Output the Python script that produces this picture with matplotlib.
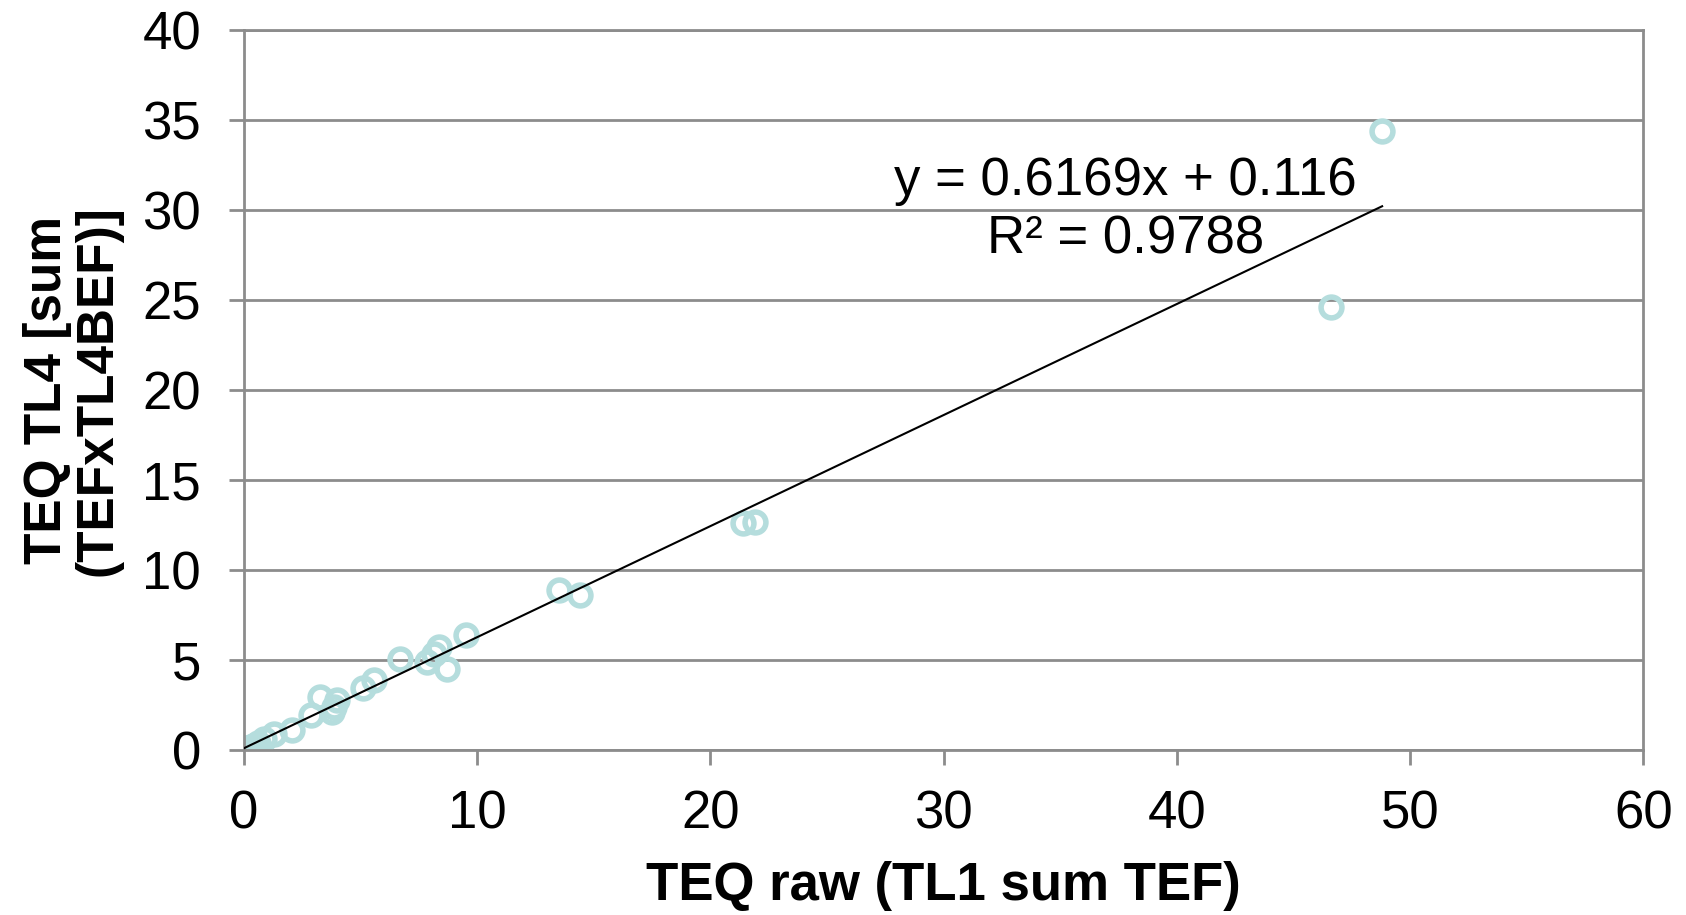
import numpy as np
import matplotlib
matplotlib.use("Agg")
import matplotlib.pyplot as plt

plt.rcParams['font.family'] = ['Liberation Sans', 'DejaVu Sans']

# TEQ raw (x) vs TEQ TL4 (y)
teq_raw = [0.0, 0.02, 0.05, 0.1, 0.15, 0.2, 0.25, 0.3, 0.4, 0.5, 0.6, 0.86, 1.29, 2.07,
           2.86, 3.26, 3.79, 3.86, 4.0, 5.11, 5.57, 6.71, 7.86, 8.14, 8.36, 8.71, 9.5,
           13.5, 14.4, 21.4, 21.9, 46.6, 48.8]
teq_tl4 = [0.0, 0.01, 0.02, 0.05, 0.1, 0.12, 0.15, 0.2, 0.25, 0.3, 0.4, 0.65, 0.93, 1.11,
           1.94, 2.96, 2.13, 2.41, 2.78, 3.48, 3.89, 5.09, 4.9, 5.37, 5.74, 4.54, 6.39,
           8.9, 8.6, 12.6, 12.7, 24.6, 34.4]

slope = 0.6169
intercept = 0.116
eq_text = "y = 0.6169x + 0.116\nR² = 0.9788"

fig = plt.figure(figsize=(16.86, 9.15), dpi=100)
ax = fig.add_axes([0.1447, 0.180, 0.83, 0.787])

grid_col = '#8c8c8c'
ax.set_axisbelow(True)
ax.grid(axis='y', color=grid_col, linewidth=2)

ax.plot(teq_raw, teq_tl4, linestyle='none', marker='o', markersize=15,
        markerfacecolor='none', markeredgecolor='#b5dddd', markeredgewidth=4, zorder=2)

xs = np.array([min(teq_raw), max(teq_raw)])
ax.plot(xs, slope * xs + intercept, color='black', linewidth=1.5, zorder=3)

ax.text(37.8, 30.0, eq_text, ha='center', va='center', fontsize=38,
        linespacing=1.2)

ax.set_xlim(0, 60)
ax.set_ylim(0, 40)
ax.set_xticks(range(0, 61, 10))
ax.set_yticks(range(0, 41, 5))
for s in ax.spines.values():
    s.set_color(grid_col)
    s.set_linewidth(2)
ax.tick_params(axis='both', labelsize=38, color=grid_col, width=2, length=11, pad=20)
ax.tick_params(axis='x', pad=17)

ax.set_xlabel('TEQ raw (TL1 sum TEF)', fontsize=38, fontweight='bold', labelpad=16)
ax.set_ylabel('TEQ TL4 [sum\n(TEFxTL4BEF)]', fontsize=37, fontweight='bold',
              labelpad=14, linespacing=1.05)

fig.savefig("out.png", dpi=100)
